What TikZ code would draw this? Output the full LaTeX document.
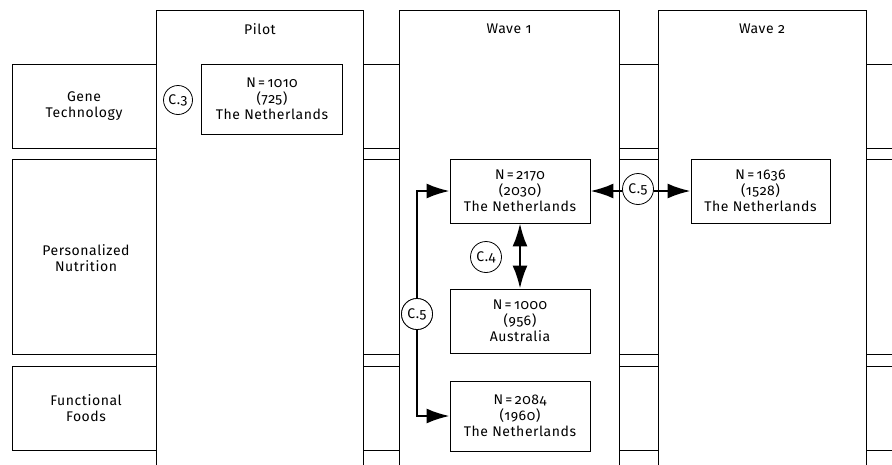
\documentclass[tikz,border=0pt]{standalone}
\usepackage{fontspec}
\setmainfont[Numbers=OldStyle,LetterSpace=4]{Fira Sans}
\usetikzlibrary{arrows.meta}
\begin{document}
\begin{tikzpicture}[x=1pt,y=-1pt,
  every node/.style={font=\fontsize{14}{16}\selectfont, align=center},
  band/.style={draw=black, fill=white, line width=0.8pt},
  col/.style={draw=black, fill=white, line width=0.8pt},
  databox/.style={draw=black, fill=white, line width=0.8pt, inner sep=0pt},
  tag/.style={circle, draw=black, fill=white, line width=0.8pt, minimum size=31pt, inner sep=0pt},
  link/.style={line width=2.4pt, -{Latex[length=23pt,width=15pt]}},
  dlink/.style={line width=2.4pt, {Latex[length=23pt,width=15pt]}-{Latex[length=23pt,width=15pt]}}]
\useasboundingbox (0,0) rectangle (892,464);
\clip (0,0) rectangle (892,464);
% rows
\draw[band] (12,64) rectangle (900,148);
\draw[band] (12,159) rectangle (900,354);
\draw[band] (12,366) rectangle (900,450);
\node (rg) at (84,106) {Gene\\Technology};
\node (rp) at (86,258) {Personalized\\Nutrition};
\node (rf) at (86,408) {Functional\\Foods};
% columns
\draw[col] (156,10) rectangle (363,470);
\draw[col] (399,10) rectangle (619,470);
\draw[col] (658,10) rectangle (866,470);
\node (hp) at (260,29) {Pilot};
\node (h1) at (509,29) {Wave 1};
\node (h2) at (762,29) {Wave 2};
% boxes
\node[databox, minimum width=141pt, minimum height=70pt] (pb) at (272,99) {N\,=\,1010\\(725)\\The Netherlands};
\node[databox, minimum width=140pt, minimum height=64pt] (w1a) at (520,191) {N\,=\,2170\\(2030)\\The Netherlands};
\node[databox, minimum width=140pt, minimum height=64pt] (au) at (520,321) {N\,=\,1000\\(956)\\Australia};
\node[databox, minimum width=140pt, minimum height=70pt] (ff) at (520,416) {N\,=\,2084\\(1960)\\The Netherlands};
\node[databox, minimum width=139pt, minimum height=64pt] (w2) at (760.5,191) {N\,=\,1636\\(1528)\\The Netherlands};
% connectors
\draw[dlink] (w1a.east) -- (w2.west);
\draw[dlink] (w1a.south) -- (au.north);
\node[tag] (c5a) at (417,314) {C.5};
\draw[link] (c5a) |- (w1a.west);
\draw[link] (c5a) |- (ff.west);
\node[tag] (c5a2) at (417,314) {C.5};
\node[tag] (c5b) at (638,189) {C.5};
\node[tag] (c4) at (486,257) {C.4};
\node[tag, minimum size=29pt] (c3) at (178,100) {C.3};
\end{tikzpicture}
\end{document}
